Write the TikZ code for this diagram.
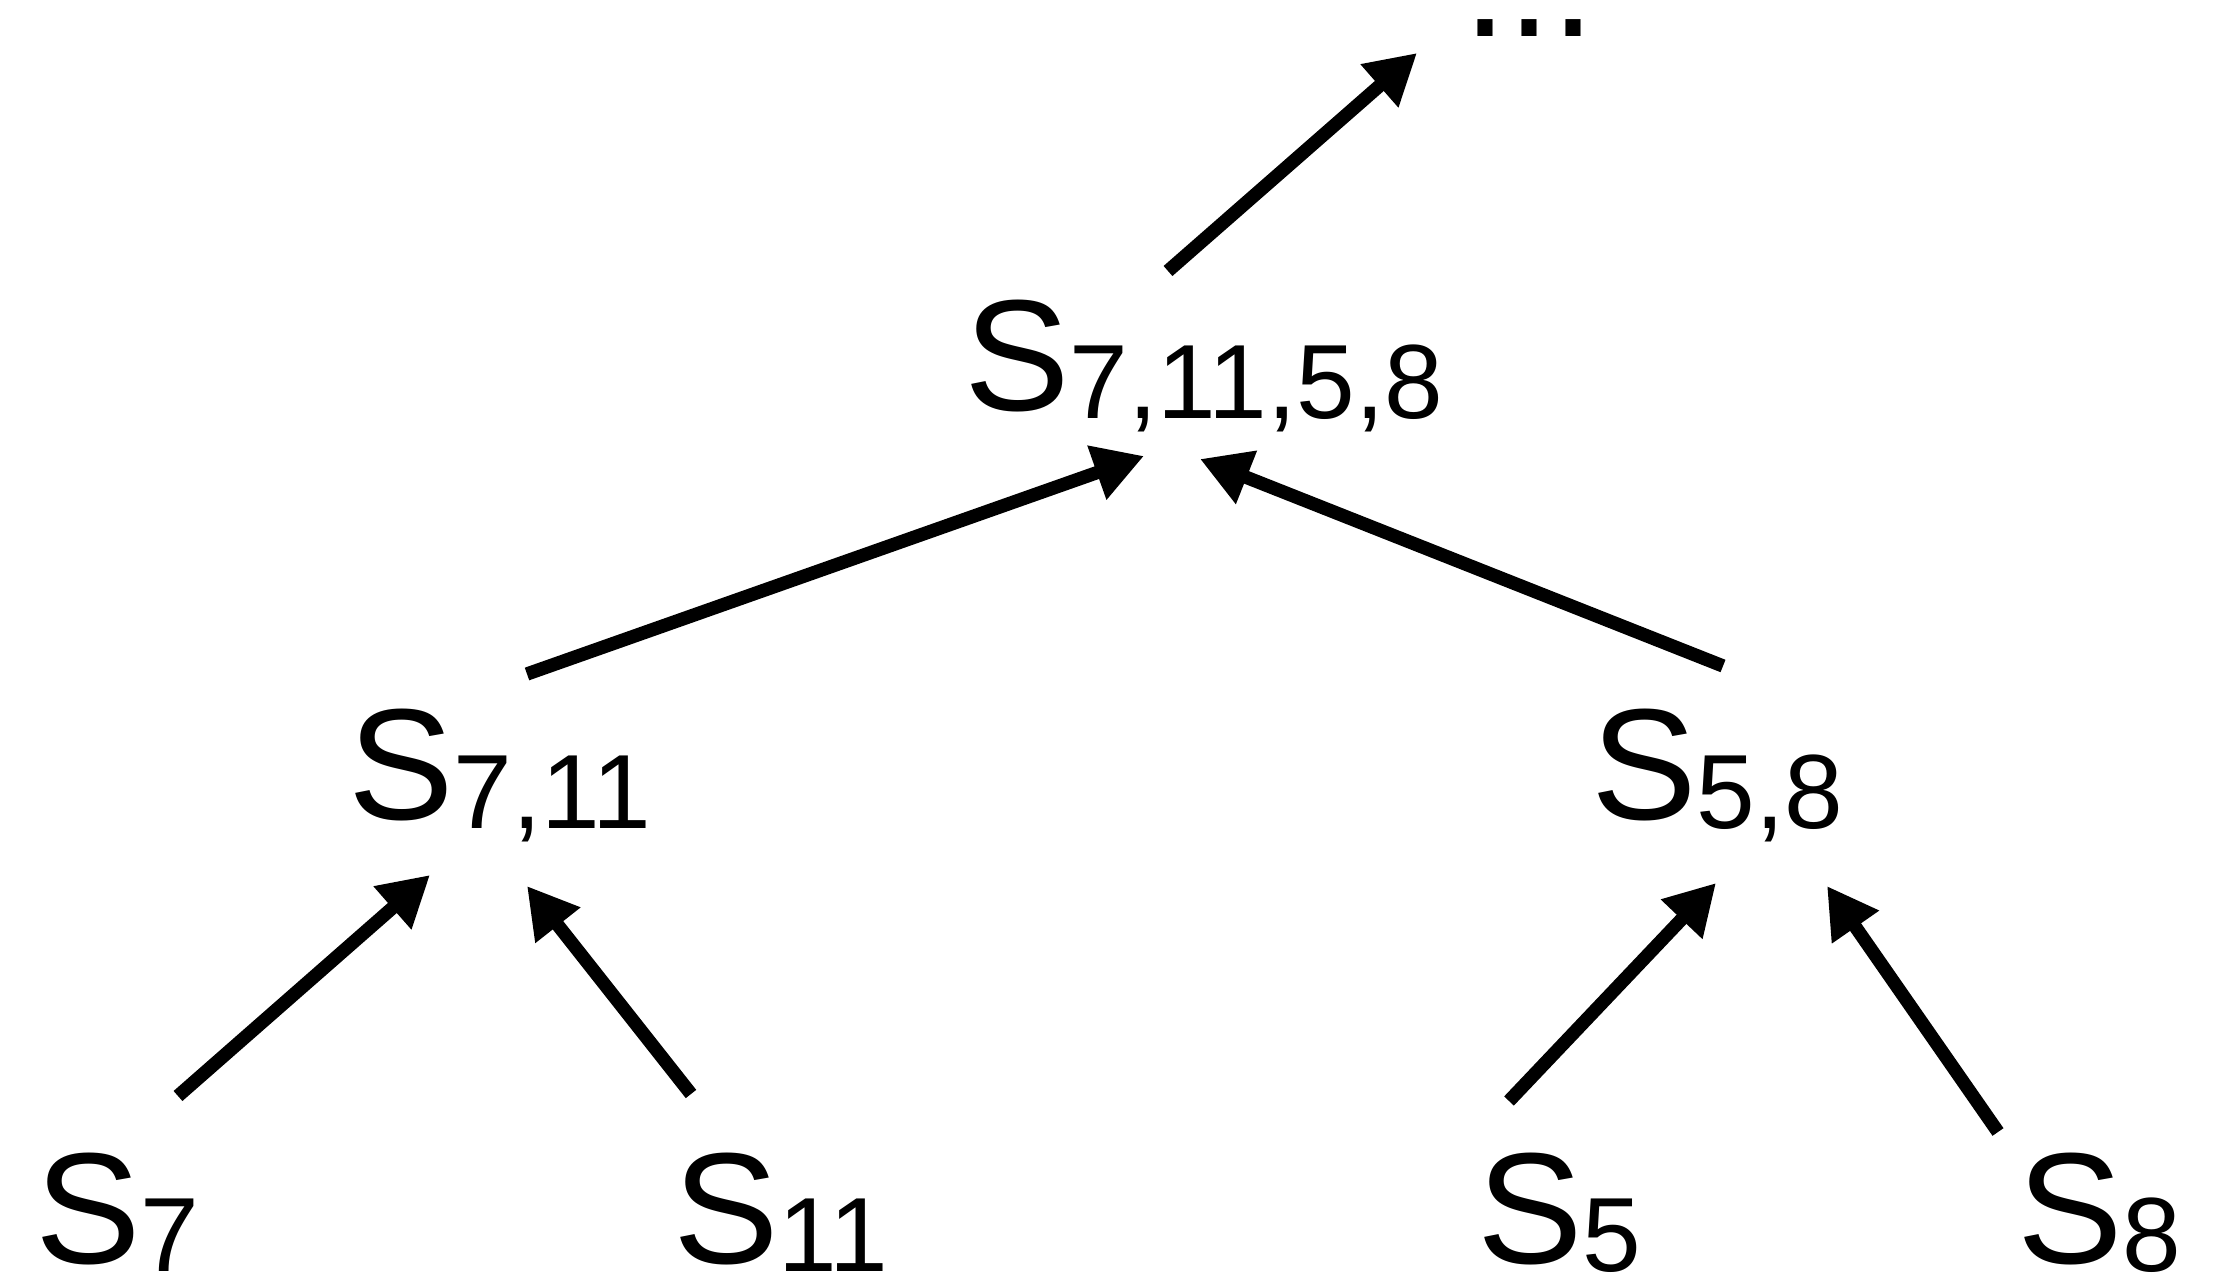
\documentclass[tikz,border=0pt]{standalone}
\usepackage{fontspec}
\setmainfont{Liberation Sans}
\usepackage{tikz}
\usetikzlibrary{arrows.meta}

\newcommand{\subidx}[1]{\raisebox{-0.08cm}{\fontsize{30}{36}\selectfont #1}}

\begin{document}
\begin{tikzpicture}[
    x=0.01cm, y=-0.01cm,
    state/.style={inner sep=0pt, outer sep=0pt, anchor=base west,
                  font=\fontsize{45}{54}\selectfont},
    merge/.style={draw, line width=3.8pt,
                  -{Triangle[length=0.5cm, width=0.54cm]}},
]
\useasboundingbox (0,0) rectangle (2233,1283);

\node [state] (dots)   at (1463,37)  {...};
\node [state] (s71158) at (964,411)  {S\subidx{7,11,5,8}};
\node [state] (s711)   at (348,820)  {S\subidx{7,11}};
\node [state] (s58)    at (1591,820) {S\subidx{5,8}};
\node [state] (s7)     at (35,1263)  {S\subidx{7}};
\node [state] (s11)    at (673,1263) {S\subidx{11}};
\node [state] (s5)     at (1477,1263) {S\subidx{5}};
\node [state] (s8)     at (2017,1263) {S\subidx{8}};

\draw [merge] ([shift={(204,-140)}]s71158.base west) -- ([shift={(-46,16)}]dots.base west);
\draw [merge] ([shift={(179,-146)}]s711.base west) -- ([shift={(180,45)}]s71158.base west);
\draw [merge] ([shift={(132,-154)}]s58.base west) -- ([shift={(236,48)}]s71158.base west);
\draw [merge] ([shift={(143,-167)}]s7.base west) -- ([shift={(82,55)}]s711.base west);
\draw [merge] ([shift={(18,-169)}]s11.base west) -- ([shift={(179,66)}]s711.base west);
\draw [merge] ([shift={(32,-162)}]s5.base west) -- ([shift={(125,63)}]s58.base west);
\draw [merge] ([shift={(-19,-131)}]s8.base west) -- ([shift={(236,66)}]s58.base west);

\end{tikzpicture}
\end{document}
